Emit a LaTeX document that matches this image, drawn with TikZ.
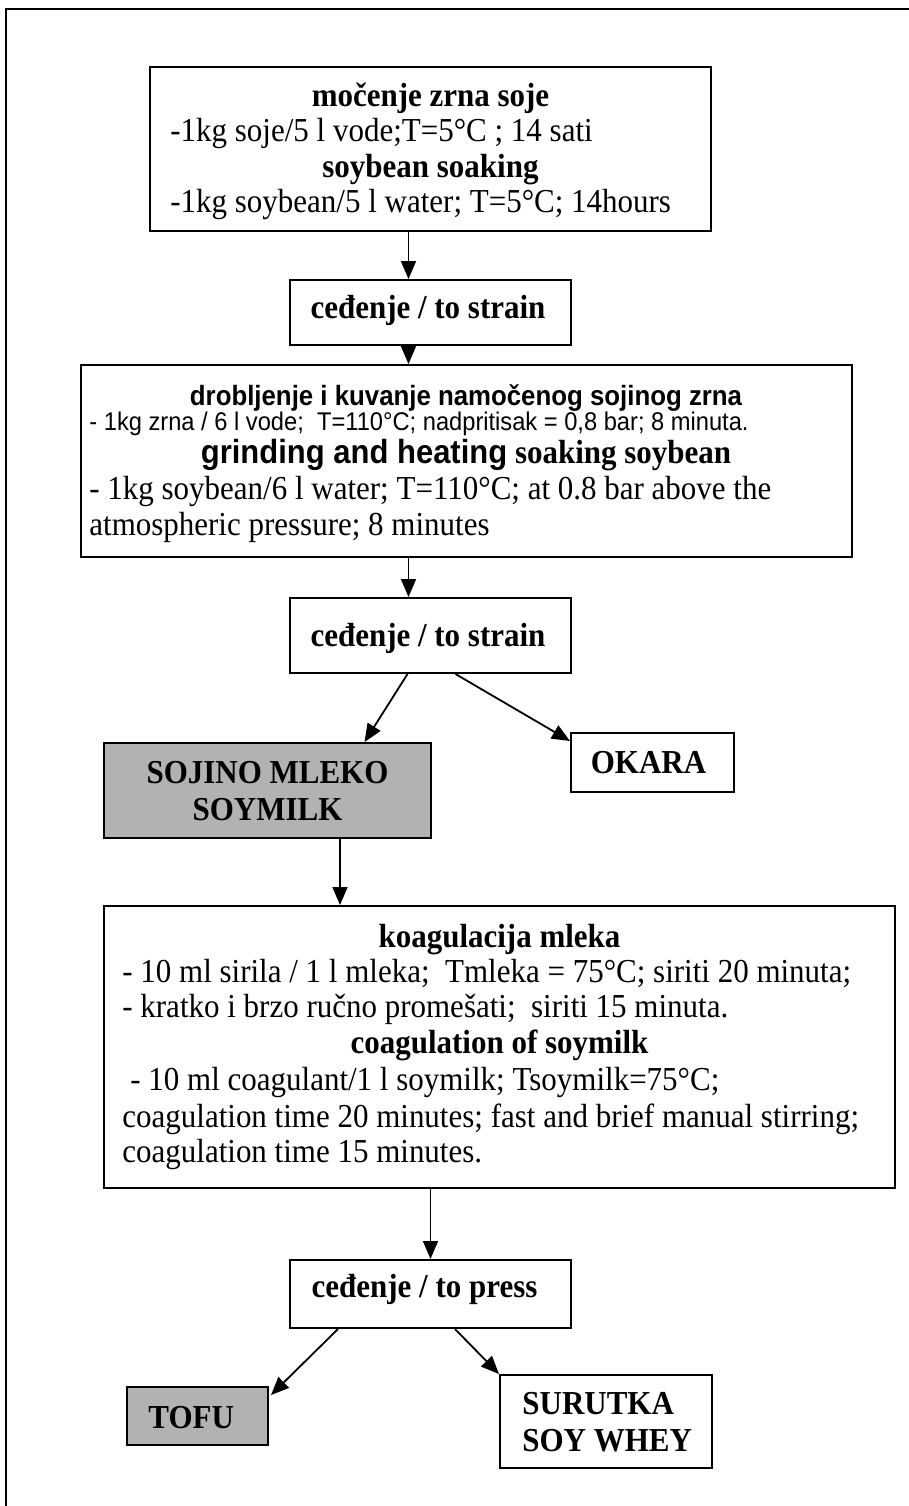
\documentclass[tikz,border=0pt]{standalone}
\usepackage{fontspec}
\setmainfont{Liberation Serif}[FakeStretch=0.925]
\newfontfamily\arialf{Liberation Sans}[FakeStretch=0.925]
\usetikzlibrary{arrows.meta,calc,fit}
\definecolor{boxgray}{HTML}{B2B2B2}
\begin{document}
\begin{tikzpicture}[x=0.5pt,y=-0.5pt,
  box/.style={draw,line width=1pt,inner sep=0pt},
  graybox/.style={box,fill=boxgray},
  txt/.style={inner sep=0pt,font=\fontsize{16.75pt}{20pt}\selectfont},
  hd/.style={inner sep=0pt,font=\fontsize{16.75pt}{20pt}\selectfont\bfseries},
  sanshd/.style={inner sep=0pt,font=\fontsize{13.95pt}{16pt}\selectfont\arialf\bfseries},
  sanssm/.style={inner sep=0pt,font=\fontsize{12.8pt}{15pt}\selectfont\arialf},
  arr/.style={line width=0.9pt,-{Triangle[length=9pt,width=7.5pt]}}]
\useasboundingbox (0,0) rectangle (909,1506);
\clip (0,0) rectangle (909,1506);
\draw[line width=1.1pt] (6,9) rectangle (925,1525);

% boxes
\node[box,fit={(150,67)(711,231)}] (b1) {};
\node[box,fit={(290,280)(571,345)}] (b2) {};
\node[box,fit={(81,365)(852,557)}] (b3) {};
\node[box,fit={(290,598)(571,673)}] (b4) {};
\node[graybox,fit={(104,743)(431,838)}] (soja) {};
\node[box,fit={(571,733)(734,792)}] (okara) {};
\node[box,fit={(104,906)(895,1188)}] (b5) {};
\node[box,fit={(290,1260)(571,1328)}] (b6) {};
\node[graybox,fit={(127,1387)(268,1445)}] (tofu) {};
\node[box,fit={(500,1375)(712,1468)}] (surutka) {};

% box 1
\node[hd,anchor=base] (t1a) at (430.5,106) {močenje zrna soje};
\node[txt,anchor=base west] (t1b) at (170,141.5) {-1kg soje/5 l vode;T=5°C ; 14 sati};
\node[hd,anchor=base] (t1c) at (430.5,177) {soybean soaking};
\node[txt,anchor=base west] (t1d) at (170,212.5) {-1kg soybean/5 l water; T=5°C; 14hours};

% box 2
\node[hd,anchor=base] (t2) at (428,318) {ceđenje / to strain};

% box 3
\node[sanshd,anchor=base] (t3a) at (466,405) {drobljenje i kuvanje namočenog sojinog zrna};
\node[sanssm,anchor=base west] (t3b) at (89,430) {- 1kg zrna / 6 l vode;\ \ T=110°C; nadpritisak = 0,8 bar; 8 minuta.};
\node[hd,anchor=base] (t3c) at (466,463) {{\arialf grinding and heating} soaking soybean};
\node[txt,anchor=base west] (t3d) at (89,499) {- 1kg soybean/6 l water; T=110°C; at 0.8 bar above the};
\node[txt,anchor=base west] (t3e) at (89,535) {atmospheric pressure; 8 minutes};

% box 4
\node[hd,anchor=base] (t4) at (428,646) {ceđenje / to strain};

% products
\node[hd,anchor=base] (t5a) at (267.5,783) {SOJINO MLEKO};
\node[hd,anchor=base] (t5b) at (267.5,820) {SOYMILK};
\node[hd,anchor=base] (t6) at (648.5,773) {OKARA};

% box 5
\node[hd,anchor=base] (t7a) at (499.5,947) {koagulacija mleka};
\node[txt,anchor=base west] (t7b) at (122,982) {- 10 ml sirila / 1 l mleka;\ \ Tmleka = 75°C; siriti 20 minuta;};
\node[txt,anchor=base west] (t7c) at (122,1017) {- kratko i brzo ručno promešati;\ \ siriti 15 minuta.};
\node[hd,anchor=base] (t7d) at (499.5,1053) {coagulation of soymilk};
\node[txt,anchor=base west] (t7e) at (130,1090) {- 10 ml coagulant/1 l soymilk; Tsoymilk=75°C;};
\node[txt,anchor=base west] (t7f) at (122,1127) {coagulation time 20 minutes; fast and brief manual stirring;};
\node[txt,anchor=base west] (t7g) at (122,1162) {coagulation time 15 minutes.};

% box 6
\node[hd,anchor=base] (t8) at (424.5,1297) {ceđenje / to press};
\node[hd,anchor=base west] (t9) at (148,1428) {TOFU};
\node[hd,anchor=base west] (t10a) at (522,1414) {SURUTKA};
\node[hd,anchor=base west] (t10b) at (522,1451) {SOY WHEY};

% connectors
\coordinate (p1) at ($(b1.south)+(-22,0)$);
\draw[arr] (p1) -- (p1 |- b2.north);
\coordinate (p2) at ($(b2.south)+(-22,0)$);
\draw[arr] (p2) -- (p2 |- b3.north);
\coordinate (p3) at ($(b2.south)+(-22,0)$);
\draw[arr] (p3 |- b3.south) -- (p3 |- b4.north);
\draw[arr] ($(b4.south)+(-23,0)$) -- ($(soja.north)+(97,0)$);
\draw[arr] ($(b4.south)+(25,0)$) -- ($(okara.north west)+(0,9)$);
\coordinate (p4) at ($(soja.south)+(72.5,0)$);
\draw[arr] (p4) -- (p4 |- b5.north);
\draw[arr] (b6.north |- b5.south) -- (b6.north);
\draw[arr] ($(b6.south)+(-92.5,0)$) -- ($(tofu.north east)+(2,9)$);
\draw[arr] ($(b6.south)+(24.5,0)$) -- (surutka.north west);
\end{tikzpicture}
\end{document}
